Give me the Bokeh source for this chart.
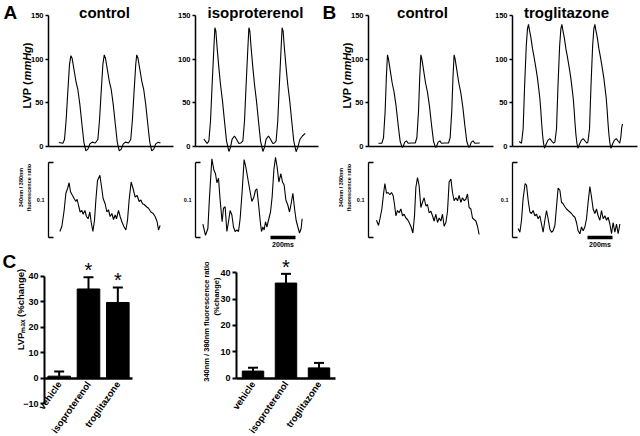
import math
from bokeh.plotting import figure
from bokeh.layouts import column, row
from bokeh.models import Range1d, FixedTicker, Label, Whisker, TeeHead, ColumnDataSource
from bokeh.core.properties import value
from bokeh.embed import file_html
from bokeh.resources import INLINE

FONT = "Liberation Sans"

# ---------------- data ----------------
# Left-ventricular pressure traces (time in ms, pressure in mmHg)
lvp_ctrl_a_t = [83, 115, 128, 141, 155, 168, 179, 189, 203, 219, 235, 251, 267, 283, 299, 315, 331, 349,
                374, 395, 408, 422, 435, 446, 456, 470, 486, 502, 518, 534, 550, 566, 582, 598, 616,
                640, 658, 671, 685, 698, 706, 716, 730, 746, 762, 778, 794, 810, 826, 842, 858, 878, 896]
lvp_ctrl_a_v = [4.6, 3.8, 8, 30, 64, 94, 104, 101, 89, 75, 65, 48, 26, 5, -5, -3, 3, 5,
                4, 8, 30, 64, 94, 105, 101, 89, 75, 65, 48, 26, 5, -5, -3, 3, 5,
                4, 8, 30, 64, 94, 105, 101, 89, 75, 65, 48, 26, 5, -5, -3, 3, 5, 4]

lvp_iso_t = [67, 93, 107, 120, 133, 147, 155, 163, 173, 187, 200, 216, 232, 248, 267, 280, 293, 312, 328, 347,
             362, 379, 392, 405, 419, 427, 435, 445, 459, 472, 488, 504, 520, 539, 552, 565, 584, 600, 619,
             632, 645, 658, 671, 685, 693, 701, 711, 725, 738, 754, 770, 786, 805, 818, 835, 855, 878]
lvp_iso_v = [8.4, 3.4, 6.5, 29, 71, 113, 136, 132, 113, 90, 71, 52, 29, 6.5, -5.7, -1, 8.4, 12, 8.4, 3.4,
             4, 6.5, 29, 71, 113, 136, 132, 113, 90, 71, 52, 29, 6.5, -5.7, -1, 8.4, 12, 8.4, 3.4,
             4, 6.5, 29, 71, 113, 136, 132, 113, 90, 71, 52, 29, 6.5, -6, -1, 8, 12, 15]

lvp_ctrl_b_t = [80, 107, 120, 133, 143, 152, 160, 173, 189, 205, 221, 237, 253, 269, 277, 290, 304, 317, 341,
                374, 387, 400, 410, 419, 427, 440, 456, 472, 488, 504, 520, 536, 544, 557, 571, 584, 608,
                640, 653, 666, 676, 685, 693, 706, 722, 738, 754, 770, 786, 802, 810, 823, 837, 850, 890]
lvp_ctrl_b_v = [3.8, 3.8, 10, 40, 80, 105, 100, 88, 73, 62, 46, 25, 6, -1, 0, 5, 6.5, 3.8, 4,
                4, 10, 40, 80, 105, 100, 88, 73, 62, 46, 25, 6, -1, 0, 5, 6.5, 3.8, 4,
                4, 10, 40, 80, 105, 100, 88, 73, 62, 46, 25, 6, -1, 0, 5, 6.5, 3.8, 4]

lvp_trog_t = [53, 72, 85, 97, 110, 120, 128, 136, 147, 160, 173, 187, 200, 210, 219, 226, 232, 240, 248, 256,
              267, 283, 299, 315, 328,
              339, 352, 364, 377, 387, 395, 403, 414, 427, 440, 454, 467, 477, 486, 493, 499, 507, 515, 523,
              534, 550, 566, 582, 595,
              603, 616, 628, 641, 651, 659, 667, 678, 691, 704, 718, 731, 741, 750, 757, 763, 771, 779, 787,
              798, 814, 830, 846, 858, 866, 874, 880]
lvp_trog_v = [5.7, 3.8, 20, 70, 115, 135, 140, 133, 125, 112, 102, 90, 78, 66, 55, 42, 29, 14, 4, -2,
              2, 7, 9, 6, 3.8,
              5, 20, 70, 115, 135, 140, 133, 125, 112, 102, 90, 78, 66, 55, 42, 29, 14, 4, -2,
              2, 7, 9, 6, 3.8,
              5, 20, 70, 115, 135, 140, 133, 125, 112, 102, 90, 78, 66, 55, 42, 29, 14, 4, -2,
              2, 7, 9, 6, 3.8, 10, 22, 26]

# 340/380 nm fluorescence ratio traces (time in ms, ratio units)
fl_ctrl_a_t = [91, 107, 125, 139, 152, 165, 176, 192, 205, 219, 229, 240, 253, 267, 277, 291, 304, 317, 331, 341,
               355, 368, 379, 392, 411, 424, 437, 453, 467, 480, 493, 507, 520, 533, 544, 560, 573, 587, 605,
               619, 632, 645, 661, 677, 693, 709, 725, 739, 752, 765, 784, 800, 819, 837, 853, 869, 880, 893]
fl_ctrl_a_v = [0.008, 0.015, 0.036, 0.059, 0.065, 0.073, 0.061, 0.056, 0.052, 0.048, 0.051, 0.043, 0.034, 0.036,
               0.031, 0.036, 0.028, 0.025, 0.034, 0.021, 0.008, 0.023, 0.050, 0.076, 0.083, 0.068, 0.052, 0.045,
               0.034, 0.037, 0.028, 0.032, 0.024, 0.030, 0.025, 0.036, 0.028, 0.021, 0.014, 0.010, 0.023, 0.050,
               0.074, 0.065, 0.054, 0.056, 0.048, 0.050, 0.045, 0.044, 0.041, 0.039, 0.034, 0.032, 0.028, 0.021,
               0.010, 0.016]

fl_iso_t = [59, 80, 99, 112, 131, 147, 160, 171, 184, 197, 213, 224, 237, 251, 264, 277, 291, 304, 317, 331,
            344, 357, 373, 389, 405, 421, 437, 451, 467, 480, 491, 504, 517, 528, 539, 549, 560, 571, 584,
            600, 613, 627, 640, 653, 667, 683, 696, 709, 723, 739, 752, 765, 779, 792, 805, 819, 832, 845, 853]
fl_iso_v = [0.018, 0.003, 0.012, 0.054, 0.105, 0.090, 0.085, 0.073, 0.079, 0.050, 0.021, 0.039, 0.041, 0.008,
            0.021, 0.036, 0.030, 0.014, 0.008, 0.010, 0.008, 0.025, 0.061, 0.104, 0.092, 0.076, 0.061, 0.048,
            0.054, 0.063, 0.065, 0.045, 0.023, 0.008, 0.014, 0.010, 0.021, 0.014, 0.023, 0.034, 0.054, 0.090,
            0.107, 0.094, 0.074, 0.085, 0.074, 0.070, 0.050, 0.043, 0.034, 0.045, 0.059, 0.039, 0.023, 0.014,
            0.006, 0.012, 0.025]

fl_ctrl_b_t = [64, 80, 93, 107, 120, 131, 144, 157, 171, 184, 197, 208, 219, 232, 245, 259, 272, 285, 299, 312,
               325, 341, 355, 368, 379, 392, 405, 419, 432, 445, 459, 472, 485, 499, 512, 525, 539, 552, 565,
               579, 592, 605, 619, 632, 645, 659, 672, 685, 699, 712, 725, 739, 752, 765, 779, 792, 805, 819,
               832, 845, 859, 872, 885]
fl_ctrl_b_v = [0.023, 0.016, 0.026, 0.038, 0.058, 0.072, 0.059, 0.060, 0.057, 0.060, 0.056, 0.044, 0.029, 0.036,
               0.033, 0.038, 0.029, 0.031, 0.026, 0.024, 0.020, 0.014, 0.006, 0.029, 0.067, 0.080, 0.069, 0.040,
               0.047, 0.053, 0.042, 0.044, 0.033, 0.035, 0.029, 0.022, 0.031, 0.020, 0.026, 0.022, 0.031, 0.015,
               0.020, 0.035, 0.074, 0.078, 0.060, 0.049, 0.053, 0.049, 0.056, 0.047, 0.053, 0.049, 0.051, 0.058,
               0.040, 0.038, 0.026, 0.024, 0.022, 0.015, 0.004]

fl_trog_t = [45, 59, 72, 85, 101, 112, 125, 139, 152, 165, 179, 192, 205, 219, 232, 245, 259, 272, 285, 299,
             312, 325, 339, 352, 365, 379, 392, 405, 419, 432, 445, 459, 472, 485, 499, 512, 525, 539, 552,
             565, 579, 592, 605, 619, 632, 645, 659, 672, 685, 699, 712, 725, 739, 752, 765, 779, 792, 805,
             819, 832, 845, 859]
fl_trog_v = [0.012, 0.007, 0.023, 0.052, 0.072, 0.070, 0.050, 0.034, 0.032, 0.036, 0.029, 0.031, 0.025, 0.029,
             0.018, 0.007, 0.023, 0.036, 0.025, 0.011, 0.007, 0.009, 0.016, 0.041, 0.066, 0.063, 0.047, 0.045,
             0.041, 0.038, 0.036, 0.034, 0.032, 0.029, 0.027, 0.020, 0.009, 0.005, 0.014, 0.009, 0.014, 0.025,
             0.047, 0.068, 0.054, 0.038, 0.032, 0.038, 0.029, 0.023, 0.036, 0.025, 0.029, 0.023, 0.027, 0.018,
             0.005, 0.020, 0.007, 0.018, 0.005, 0.018]

lvp_ticks = [0, 50, 100, 150]
ratio_scale = [0.0, 0.1]          # bracket: 0.1 ratio units
scalebar_t = [600, 800]           # 200 ms time bar
scalebar_label = ["200ms"]

# Summary bars
categories = ["vehicle", "isoproterenol", "troglitazone"]
lvp_max_change = [0.8, 35.0, 29.7]
lvp_max_err = [1.8, 4.6, 5.9]
lvp_max_sig = ["", "*", "*"]
ratio_change = [2.7, 36.1, 3.9]
ratio_err = [1.3, 3.5, 1.9]
ratio_sig = ["", "*", ""]
lvp_max_ticks = [-10, 0, 10, 20, 30, 40]
ratio_ticks = [0, 10, 20, 30, 40]

MS_PER_PX = 8
LVP_PX_PER_UNIT = 155 / (167.2 + 10.3)


# ---------------- helpers ----------------
def base_fig(width, height, x_range, y_range):
    p = figure(width=width, height=height, x_range=x_range, y_range=y_range,
               output_backend="svg", toolbar_location=None,
               min_border_left=0, min_border_right=0, min_border_top=0, min_border_bottom=0)
    p.outline_line_color = None
    p.grid.grid_line_color = None
    p.background_fill_color = "white"
    p.border_fill_color = "white"
    return p


def style_axis(ax, size, lw, tick_out):
    ax.fixed_location = 0
    ax.axis_line_width = lw
    ax.axis_line_color = "black"
    ax.major_tick_line_width = lw
    ax.major_tick_line_color = "black"
    ax.major_tick_out = tick_out
    ax.major_tick_in = 0
    ax.minor_tick_line_color = None
    ax.major_label_text_font = FONT
    ax.major_label_text_font_style = "bold"
    ax.major_label_text_font_size = size
    ax.major_label_text_color = "black"
    ax.major_label_standoff = 2


def hide_x(ax, end, lw):
    style_axis(ax, "1px", lw, 0)
    ax.ticker = FixedTicker(ticks=[])
    ax.bounds = (0, end)
    ax.major_label_text_color = None


def add_label(p, x, y, text, size, angle=0, align="center", baseline="middle", style="bold"):
    p.add_layout(Label(x=x, y=y, text=text, angle=angle, angle_units="deg", text_align=align,
                       text_baseline=baseline, text_font=FONT, text_font_style=style,
                       text_font_size=size, text_color="black"))


def lvp_ylabel(p):
    # "LVP (mmHg)" with italic unit, drawn bottom-to-top, centred near 81 mmHg
    fs = 11
    pieces = [("LVP (", "bold", 2.556), ("mmHg", "bold italic", 3.111), (")", "bold", 0.333)]
    total = sum(w for _, _, w in pieces) * fs
    y = 81.3 - (total / 2) / LVP_PX_PER_UNIT
    for text, style, w in pieces:
        add_label(p, -22 * MS_PER_PX, y, text, f"{fs}px", angle=90, align="left", style=style)
        y += w * fs / LVP_PX_PER_UNIT


def lvp_panel(t, v, width, axis_px, end_px, title, title_t, letter=None, letter_px=0, ylabel=False):
    xr = Range1d(-axis_px * MS_PER_PX, (width - axis_px) * MS_PER_PX)
    p = base_fig(width, 155, xr, Range1d(-10.3, 167.2))
    ax = p.yaxis[0]
    ax.ticker = FixedTicker(ticks=lvp_ticks)
    ax.bounds = (0, 150)
    style_axis(ax, "7.5px", 1.5, 3)
    hide_x(p.xaxis[0], end_px * MS_PER_PX, 1.5)
    p.line(t, v, line_color="black", line_width=1.1)
    add_label(p, title_t, 153.4, title, "15px")
    if letter:
        add_label(p, -letter_px * MS_PER_PX, 153.4, letter, "19px", align="left")
    if ylabel:
        lvp_ylabel(p)
    return p


def fl_panel(t, v, width, axis_px, ylabel=False, bar=False):
    xr = Range1d(-axis_px * MS_PER_PX, (width - axis_px) * MS_PER_PX)
    p = base_fig(width, 95, xr, Range1d(-0.01733, 0.10933))
    p.xaxis.visible = False
    ax = p.yaxis[0]
    ax.ticker = FixedTicker(ticks=[0.05], minor_ticks=ratio_scale)
    ax.bounds = (ratio_scale[0], ratio_scale[1])
    style_axis(ax, "5.5px", 1.3, 0)
    ax.minor_tick_line_color = "black"
    ax.minor_tick_line_width = 1.3
    ax.minor_tick_in = 5
    ax.minor_tick_out = 0
    ax.major_label_standoff = 4
    ax.major_label_overrides = {0.05: "0.1"}
    p.line(t, v, line_color="black", line_width=1.1)
    if ylabel:
        add_label(p, -27.3 * MS_PER_PX, 0.0667, "340nm / 380nm", "5.5px", angle=90)
        add_label(p, -19.7 * MS_PER_PX, 0.0667, "fluorescence ratio", "5.5px", angle=90)
    if bar:
        p.line(scalebar_t, [0, 0], line_color="black", line_width=3.5)
        p.text(x=[sum(scalebar_t) / 2], y=[0], text=scalebar_label, y_offset=7,
               text_align="center", text_baseline="middle", text_font=value(FONT),
               text_font_style="bold", text_font_size="7px", text_color="black")
    return p


def bar_panel(vals, errs, sig, ticks, width, axis_px, px_per_cat, ymin, ymax, bar_w):
    pos = [i + 0.5 for i in range(len(categories))]
    up = [a + b for a, b in zip(vals, errs)]
    src = ColumnDataSource(dict(x=pos, val=vals, up=up, star=sig))
    xr = Range1d(-axis_px / px_per_cat, (width - axis_px) / px_per_cat)
    p = base_fig(width, 186, xr, Range1d(ymin, ymax))
    ax = p.yaxis[0]
    ax.ticker = FixedTicker(ticks=ticks)
    ax.bounds = (ticks[0], ticks[-1])
    style_axis(ax, "9px", 2, 4)
    xa = p.xaxis[0]
    style_axis(xa, "9.5px", 2.5, 0)
    xa.ticker = FixedTicker(ticks=pos)
    xa.bounds = (0, len(categories))
    xa.major_label_overrides = {k: c for k, c in zip(pos, categories)}
    xa.major_label_orientation = math.radians(55)
    xa.major_label_standoff = 4
    p.vbar(x="x", top="val", bottom=0, width=bar_w, fill_color="black", line_color="black", source=src)
    p.add_layout(Whisker(source=src, base="x", upper="up", lower="val", line_width=2, line_color="black",
                         upper_head=TeeHead(size=10, line_width=2, line_color="black"), lower_head=None))
    p.text(x="x", y="up", text="star", source=src, text_align="center", text_baseline="middle",
           y_offset=-7, text_font=value(FONT), text_font_size="20px", text_color="black")
    return p


# ---------------- panels ----------------
a1 = lvp_panel(lvp_ctrl_a_t, lvp_ctrl_a_v, 175, 48, 125, "control", 448, letter="A", letter_px=45, ylabel=True)
a2 = lvp_panel(lvp_iso_t, lvp_iso_v, 145, 20, 123, "isoproterenol", 480)
b1 = lvp_panel(lvp_ctrl_b_t, lvp_ctrl_b_v, 175, 48, 125, "control", 432, letter="B", letter_px=46, ylabel=True)
b2 = lvp_panel(lvp_trog_t, lvp_trog_v, 145, 17, 125, "troglitazone", 432)

fa1 = fl_panel(fl_ctrl_a_t, fl_ctrl_a_v, 175, 48, ylabel=True)
fa2 = fl_panel(fl_iso_t, fl_iso_v, 145, 20, bar=True)
fb1 = fl_panel(fl_ctrl_b_t, fl_ctrl_b_v, 175, 48, ylabel=True)
fb2 = fl_panel(fl_trog_t, fl_trog_v, 145, 17, bar=True)

c1 = bar_panel(lvp_max_change, lvp_max_err, lvp_max_sig, lvp_max_ticks, 200, 44, 29.33, -22.86, 50.08, 0.77)
add_label(c1, -42 / 29.33, 45.8, "C", "19px", align="left")
add_label(c1, -24 / 29.33, 26.9, "LVPₘₐₓ (%change)", "9.5px", angle=90)

c2 = bar_panel(ratio_change, ratio_err, ratio_sig, ratio_ticks, 145, 36, 33.0, -22.13, 48.46, 0.65)
add_label(c2, -30.5 / 33.0, 21.5, "340nm / 380nm fluorescence ratio", "7.5px", angle=90)
add_label(c2, -20.5 / 33.0, 31.0, "(%change)", "7.5px", angle=90)

layout = column(row(a1, a2, b1, b2), row(fa1, fa2, fb1, fb2), row(c1, c2))

open("out.html", "w").write(file_html(layout, INLINE))
